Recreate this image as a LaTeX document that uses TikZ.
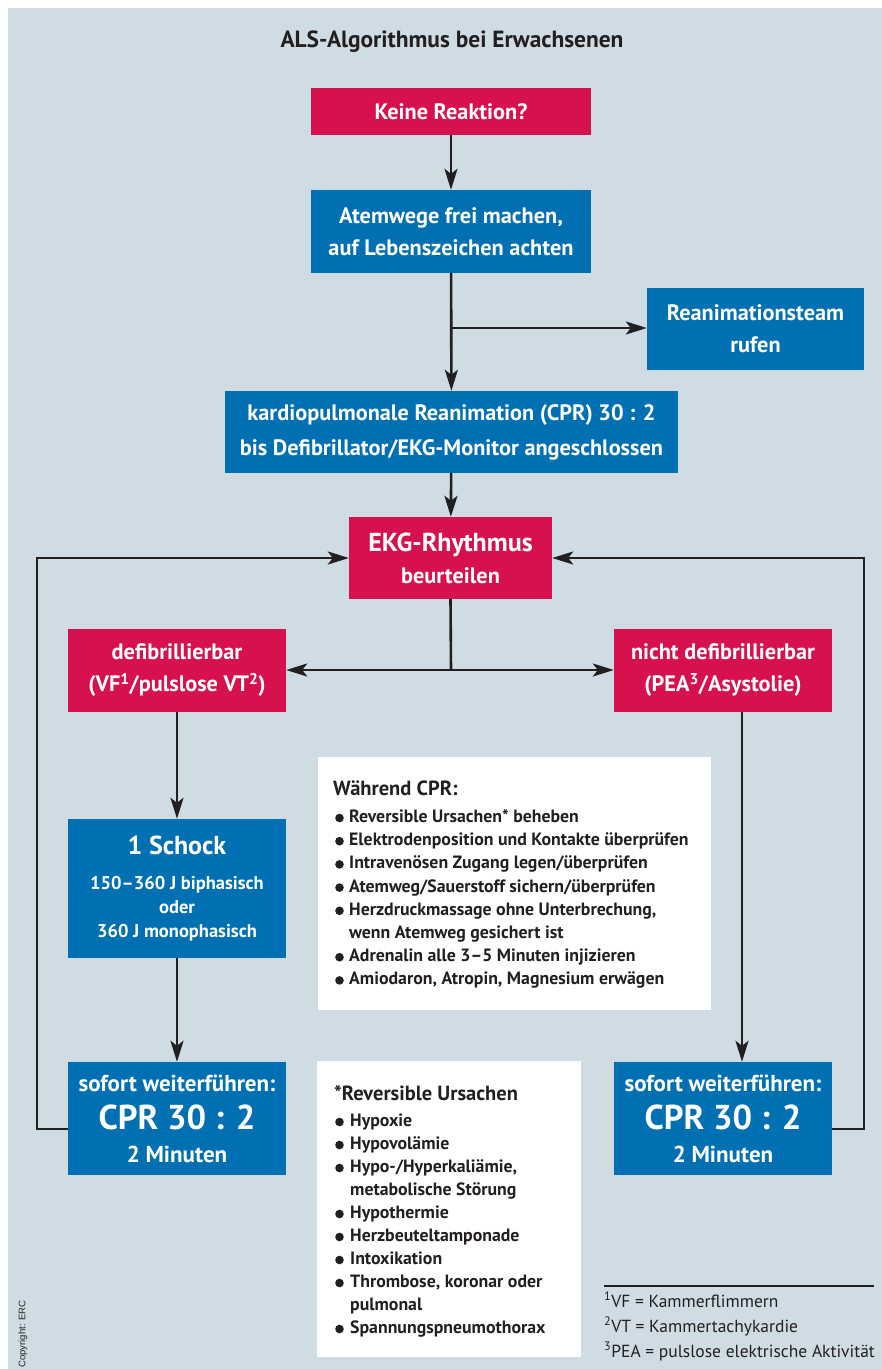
\documentclass[tikz,border=0pt]{standalone}
\usepackage{fontspec}
\setmainfont{PT Sans}
\newfontfamily\arialf{Liberation Sans}
\usetikzlibrary{arrows.meta}
\definecolor{bgc}{HTML}{CFDCE4}
\definecolor{redc}{HTML}{D7114D}
\definecolor{bluec}{HTML}{0070B2}
\definecolor{linec}{HTML}{231F20}
\tikzset{
  boxbase/.style={text=white, align=center, inner sep=0pt, font=\bfseries\fontsize{22.3}{32}\selectfont},
  redbox/.style={boxbase, fill=redc},
  bluebox/.style={boxbase, fill=bluec},
  whitebox/.style={fill=white, inner sep=0pt},
  conn/.style={draw=linec, line width=2.6pt, -{Stealth[length=21pt,width=13pt,inset=5pt]}},
  plainconn/.style={draw=linec, line width=2.6pt},
  itemtext/.style={anchor=west, inner sep=0pt, text height=12.5pt, text depth=3.5pt, text=linec, font=\bfseries\fontsize{17.8}{23}\selectfont},
  headtext/.style={anchor=west, inner sep=0pt, text=linec, font=\bfseries\fontsize{20.5}{26}\selectfont},
  foottext/.style={anchor=west, inner sep=0pt, text height=12pt, text depth=3.5pt, text=linec, font=\fontsize{17.5}{20}\selectfont},
}
\begin{document}
\begin{tikzpicture}[x=1pt,y=-1pt]
\useasboundingbox (0,0) rectangle (882,1369);
\fill[bgc] (8,8) rectangle (882,1369);

\node[text=linec, font=\bfseries\fontsize{23.4}{28}\selectfont] (title) at (452,42) {ALS-Algorithmus bei Erwachsenen};

\node[redbox, minimum width=280, minimum height=47] (keine) at (451,111.5) {Keine Reaktion?};
\node[bluebox, minimum width=280, minimum height=83] (atem) at (451,231.5) {Atemwege frei machen,\\auf Lebenszeichen achten};
\node[bluebox, minimum width=217, minimum height=82] (team) at (755.5,329) {Reanimationsteam\\rufen};
\node[bluebox, minimum width=453, minimum height=82] (cpr) at (451.5,432) {kardiopulmonale Reanimation (CPR) 30 : 2\\[3pt]bis Defibrillator/EKG-Monitor angeschlossen};
\node[redbox, minimum width=203, minimum height=82] (ekg) at (450.5,558) {{\fontsize{26}{32}\selectfont EKG-Rhythmus}\\beurteilen};
\node[redbox, minimum width=218, minimum height=83] (defib) at (177,670.5) {defibrillierbar\\(VF\textsuperscript{1}/pulslose VT\textsuperscript{2})};
\node[redbox, minimum width=218, minimum height=83] (nicht) at (723,670.5) {nicht defibrillierbar\\(PEA\textsuperscript{3}/Asystolie)};
\node[bluebox, minimum width=218, minimum height=139] (schock) at (177,888.5) {{\fontsize{26}{32}\selectfont 1 Schock}\\[3pt]{\fontsize{18.5}{23.5}\selectfont 150--360 J biphasisch}\\[-8pt]{\fontsize{18.5}{23.5}\selectfont oder}\\[-8pt]{\fontsize{18.5}{23.5}\selectfont 360 J monophasisch}};
\node[bluebox, minimum width=218, minimum height=113] (sofl) at (177,1118.5) {{\fontsize{23}{32}\selectfont sofort weiterführen:}\\[6pt]{\fontsize{34.5}{34}\selectfont CPR 30 : 2}\\[1pt]{\fontsize{23}{32}\selectfont 2 Minuten}};
\node[bluebox, minimum width=218, minimum height=113] (sofr) at (723,1118.5) {{\fontsize{23}{32}\selectfont sofort weiterführen:}\\[6pt]{\fontsize{34.5}{34}\selectfont CPR 30 : 2}\\[1pt]{\fontsize{23}{32}\selectfont 2 Minuten}};

\node[whitebox, minimum width=393, minimum height=253] (wcpr) at (514.5,883.5) {};
\node[whitebox, minimum width=264, minimum height=296] (revb) at (449,1209) {};

\node[headtext] (wh) at (333,788) {Während CPR:};
\foreach \n/\b/\s in {0/1/{Reversible Ursachen* beheben},1/1/{Elektrodenposition und Kontakte überprüfen},2/1/{Intravenösen Zugang legen/überprüfen},3/1/{Atemweg/Sauerstoff sichern/überprüfen},4/1/{Herzdruckmassage ohne Unterbrechung,},5/0/{wenn Atemweg gesichert ist},6/1/{Adrenalin alle 3--5 Minuten injizieren},7/1/{Amiodaron, Atropin, Magnesium erwägen}}{
  \node[itemtext] (w\n) at (349,818+23.2*\n) {\s};
  \ifnum\b=1 \fill[linec] (339.5,818+23.2*\n) circle[radius=4.3pt];\fi
}
\node[headtext] (rh) at (334,1093) {*Reversible Ursachen};
\foreach \n/\b/\s in {0/1/{Hypoxie},1/1/{Hypovolämie},2/1/{Hypo-/Hyperkaliämie,},3/0/{metabolische Störung},4/1/{Hypothermie},5/1/{Herzbeuteltamponade},6/1/{Intoxikation},7/1/{Thrombose, koronar oder},8/0/{pulmonal},9/1/{Spannungspneumothorax}}{
  \node[itemtext] (r\n) at (350,1122+23*\n) {\s};
  \ifnum\b=1 \fill[linec] (339.5,1122+23*\n) circle[radius=4.3pt];\fi
}

% connectors
\draw[conn] (keine) -- (atem);
\draw[conn] (atem) -- (cpr);
\coordinate (br) at (451,328);
\draw[conn] (br) -- (br -| team.west);
\draw[conn] (cpr) -- (ekg);
\coordinate (split) at (451,670);
\draw[plainconn] (ekg.south) -- (split);
\draw[conn] (split) -- (split -| defib.east);
\draw[conn] (split) -- (split -| nicht.west);
\draw[conn] (defib) -- (schock);
\draw[conn] (schock) -- (sofl);
\coordinate (nd) at (742,712);
\draw[conn] (nd) -- (nd |- sofr.north);
\coordinate (ll) at (37,558);
\coordinate (rl) at (864,558);
\draw[conn] ([yshift=-10.5pt]sofl.west) -| (ll) -- (ekg.west);
\draw[conn] ([yshift=-10.5pt]sofr.east) -| (rl) -- (ekg.east);

% footnotes
\coordinate (fl) at (604,1286);
\coordinate (fr) at (874,1286);
\draw[linec, line width=1.2pt] (fl) -- (fr);
\node[foottext] (f1) at (604,1303) {\textsuperscript{1}VF = Kammerflimmern};
\node[foottext] (f2) at (604,1328) {\textsuperscript{2}VT = Kammertachykardie};
\node[foottext] (f3) at (604,1353) {\textsuperscript{3}PEA = pulslose elektrische Aktivität};

\node[rotate=90, inner sep=0pt, text=linec, font=\arialf\fontsize{9.5}{11}\selectfont] (copy) at (23,1334) {Copyright: ERC};
\end{tikzpicture}
\end{document}
